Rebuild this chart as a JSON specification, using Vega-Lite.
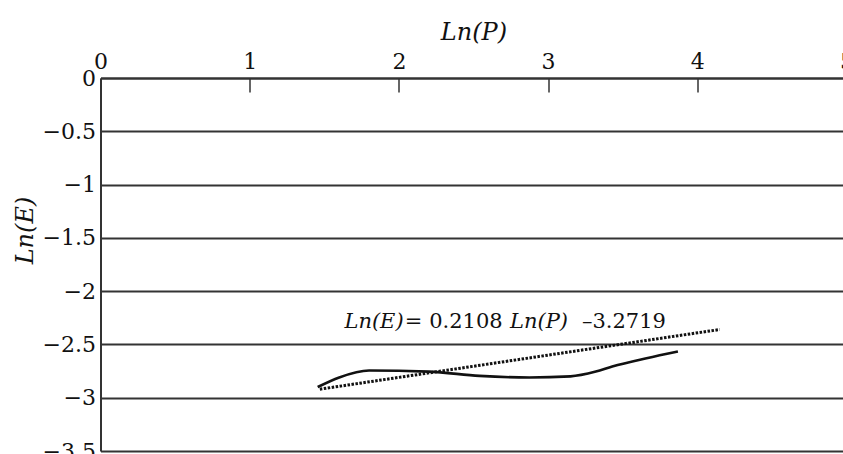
{
  "$schema": "https://vega.github.io/schema/vega-lite/v6.json",
  "width": 746,
  "height": 373,
  "autosize": {"type": "none"},
  "padding": {"left": 100.5, "top": 78, "right": 0, "bottom": 3},
  "config": {
    "view": {"stroke": null},
    "font": "DejaVu Serif",
    "axis": {"labelColor": "#111", "titleColor": "#111", "titleFontWeight": "normal", "labelFont": "DejaVu Serif", "titleFont": "DejaVu Serif"}
  },
  "encoding": {
    "x": {
      "field": "x", "type": "quantitative",
      "scale": {"domain": [0, 5], "nice": false, "zero": false},
      "axis": {
        "orient": "top", "title": "Ln(P)", "titleFontStyle": "italic", "titleFontSize": 24,
        "titlePadding": 6, "values": [0, 1, 2, 3, 4, 5], "format": "d",
        "labelFontSize": 22, "tickSize": -14, "labelPadding": 19,
        "tickColor": "#333", "tickWidth": 1.5, "domainColor": "#333", "domainWidth": 2,
        "grid": false, "labelFlush": false
      }
    },
    "y": {
      "field": "y", "type": "quantitative",
      "scale": {"domain": [-3.5, 0], "nice": false, "zero": false},
      "axis": {
        "title": "Ln(E)", "titleFontStyle": "italic", "titleFontSize": 24, "titlePadding": 5,
        "titleY": 152,
        "values": [0, -0.5, -1, -1.5, -2, -2.5, -3, -3.5], "format": "~g",
        "labelFontSize": 22, "ticks": false, "labelPadding": 5,
        "domainColor": "#333", "domainWidth": 2,
        "grid": true, "gridColor": "#333", "gridWidth": 1.8, "gridOpacity": 1
      }
    }
  },
  "layer": [
    {
      "data": {"values": [
        {"x": 1.456, "y": -2.90},
        {"x": 1.60, "y": -2.81},
        {"x": 1.80, "y": -2.745},
        {"x": 2.20, "y": -2.755},
        {"x": 2.54, "y": -2.795},
        {"x": 2.875, "y": -2.81},
        {"x": 3.15, "y": -2.80},
        {"x": 3.32, "y": -2.755},
        {"x": 3.43, "y": -2.708},
        {"x": 3.66, "y": -2.63},
        {"x": 3.87, "y": -2.567}
      ]},
      "mark": {"type": "line", "interpolate": "monotone", "color": "#111", "strokeWidth": 2.6}
    },
    {
      "data": {"values": [
        {"x": 1.47, "y": -2.92},
        {"x": 4.15, "y": -2.36}
      ]},
      "mark": {"type": "line", "color": "#111", "strokeWidth": 3, "strokeDash": [2.5, 1.5]}
    },
    {
      "data": {"values": [
        {"x": 1.635, "y": -2.29, "label": "Ln(E)"},
        {"x": 2.745, "y": -2.29, "label": "Ln(P)"}
      ]},
      "mark": {"type": "text", "align": "left", "baseline": "middle", "fontSize": 21, "fontStyle": "italic", "font": "DejaVu Serif", "color": "#111"},
      "encoding": {"text": {"field": "label"}}
    },
    {
      "data": {"values": [
        {"x": 2.04, "y": -2.29, "label": "= 0.2108"},
        {"x": 3.227, "y": -2.29, "label": "–3.2719"}
      ]},
      "mark": {"type": "text", "align": "left", "baseline": "middle", "fontSize": 21, "font": "DejaVu Serif", "color": "#111"},
      "encoding": {"text": {"field": "label"}}
    }
  ]
}
